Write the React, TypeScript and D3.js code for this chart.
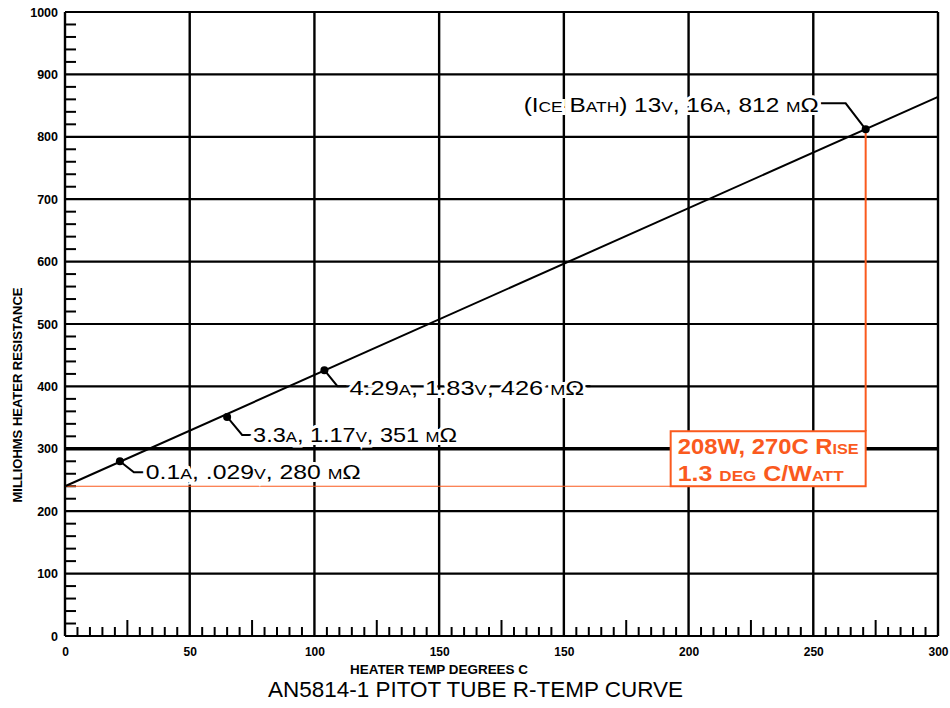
import React, { useRef, useEffect } from 'react';
import * as d3 from 'd3';

// x values are positions along the printed axis (the sheet repeats the 150 label)
const X_TICK_LABELS = ['0', '50', '100', '150', '150', '200', '250', '300'];
const LINE_X = [0, 350];
const LINE_R = [240, 864];
const POINT_X = [22, 65, 104, 321];
const POINT_R = [280, 351, 426, 812];
const POINT_LABELS = [
  '0.1a, .029v, 280 mΩ',
  '3.3a, 1.17v, 351 mΩ',
  '4.29a, 1.83v, 426 mΩ',
  '(Ice Bath) 13v, 16a, 812 mΩ',
];
const NOTE_LINES = ['208W, 270C Rise', '1.3 deg C/Watt'];

const ORANGE = '#fa5a1e';
const FONT = 'Liberation Sans, Arial, sans-serif';

// label offsets from each point, in px
const LABEL_LAYOUT = [
  { dx: 26, dy: 18, len: 215, anchor: 'start', leader: [[14, 11], [24, 11]] },
  { dx: 26, dy: 25, len: 204, anchor: 'start', leader: [[15, 18], [24, 18]] },
  { dx: 25, dy: 25, len: 235, anchor: 'start', leader: [[13, 16], [22, 16]] },
  { dx: -47, dy: -17, len: 295, anchor: 'end', leader: [[-20, -26], [-45, -26]] },
];

const App: React.FC = () => {
  const svgRef = useRef<SVGSVGElement>(null);

  useEffect(() => {
    if (!svgRef.current) return;
    const svg = d3.select(svgRef.current);
    svg.selectAll('*').remove();

    const left = 65, right = 938, top = 12, bottom = 636;
    const x = d3.scaleLinear().domain([0, 350]).range([left, right]);
    const y = d3.scaleLinear().domain([0, 1000]).range([bottom, top]);

    const g = svg.append('g');

    // minor ticks
    g.append('g')
      .selectAll('line')
      .data(d3.range(0, 1000, 20).filter(v => v % 100 !== 0))
      .join('line')
      .attr('x1', left).attr('x2', left + 11)
      .attr('y1', d => y(d)).attr('y2', d => y(d))
      .attr('stroke', '#000').attr('stroke-width', 2);

    g.append('g')
      .selectAll('line')
      .data(d3.range(0, 350, 5).filter(v => v % 50 !== 0))
      .join('line')
      .attr('x1', d => x(d)).attr('x2', d => x(d))
      .attr('y1', bottom).attr('y2', d => bottom - (d % 25 === 0 ? 16 : 9))
      .attr('stroke', '#000').attr('stroke-width', 2);

    // grid
    g.append('g')
      .selectAll('line')
      .data(y.ticks(10))
      .join('line')
      .attr('x1', left).attr('x2', right)
      .attr('y1', d => y(d)).attr('y2', d => y(d))
      .attr('stroke', '#000')
      .attr('stroke-width', d => (d === 300 ? 3.5 : 2.2));

    g.append('g')
      .selectAll('line')
      .data(d3.range(0, 351, 50))
      .join('line')
      .attr('x1', d => x(d)).attr('x2', d => x(d))
      .attr('y1', top).attr('y2', bottom)
      .attr('stroke', '#000').attr('stroke-width', 2.4);

    // y labels
    const yAxis = g.append('g')
      .attr('transform', `translate(${left},0)`)
      .call(d3.axisLeft(y).ticks(10).tickSize(0).tickPadding(7).tickFormat(d3.format('d')));
    yAxis.select('.domain').remove();
    yAxis.selectAll('text')
      .attr('fill', '#000')
      .attr('font-family', FONT).attr('font-weight', 'bold').attr('font-size', 12.5);

    // x labels
    const xAxis = g.append('g')
      .attr('transform', `translate(0,${bottom})`)
      .call(
        d3.axisBottom(x)
          .tickValues(d3.range(0, 351, 50))
          .tickSize(0)
          .tickPadding(11)
          .tickFormat((_, i) => X_TICK_LABELS[i])
      );
    xAxis.select('.domain').remove();
    xAxis.selectAll('text')
      .attr('fill', '#000')
      .attr('font-family', FONT).attr('font-weight', 'bold').attr('font-size', 12);

    // axis titles
    svg.append('text')
      .attr('transform', 'translate(22,395) rotate(-90)')
      .attr('text-anchor', 'middle')
      .attr('font-family', FONT).attr('font-weight', 'bold').attr('font-size', 13)
      .attr('textLength', 215).attr('lengthAdjust', 'spacingAndGlyphs')
      .text('MILLIOHMS HEATER RESISTANCE');

    svg.append('text')
      .attr('x', 350).attr('y', 674)
      .attr('font-family', FONT).attr('font-weight', 'bold').attr('font-size', 12)
      .attr('textLength', 178).attr('lengthAdjust', 'spacingAndGlyphs')
      .text('HEATER TEMP DEGREES C');

    svg.append('text')
      .attr('x', 268).attr('y', 697)
      .attr('font-family', FONT).attr('font-size', 22)
      .attr('textLength', 415).attr('lengthAdjust', 'spacingAndGlyphs')
      .text('AN5814-1 PITOT TUBE R-TEMP CURVE');

    // orange note
    const px = x(POINT_X[3]);
    const py = y(POINT_R[3]);
    const base = y(LINE_R[0]);
    const boxW = 195, boxH = 55;
    svg.append('line')
      .attr('x1', x(0)).attr('x2', px - boxW)
      .attr('y1', base).attr('y2', base)
      .attr('stroke', ORANGE).attr('stroke-width', 1.2);
    svg.append('line')
      .attr('x1', px).attr('x2', px)
      .attr('y1', py).attr('y2', base - boxH)
      .attr('stroke', ORANGE).attr('stroke-width', 2);
    svg.append('rect')
      .attr('x', px - boxW).attr('y', base - boxH)
      .attr('width', boxW).attr('height', boxH)
      .attr('fill', '#fff').attr('stroke', ORANGE).attr('stroke-width', 2);
    svg.append('g')
      .selectAll('text')
      .data(NOTE_LINES)
      .join('text')
      .attr('x', px - boxW + 7)
      .attr('y', (_, i) => base - boxH + 23 + i * 27)
      .attr('fill', ORANGE)
      .attr('font-family', FONT).attr('font-weight', 'bold').attr('font-size', 22)
      .attr('font-variant', 'small-caps')
      .attr('textLength', (_, i) => (i === 0 ? 181 : 166))
      .attr('lengthAdjust', 'spacingAndGlyphs')
      .text(d => d);

    // curve
    const line = d3.line<number>().x((_, i) => x(LINE_X[i])).y(d => y(d));
    svg.append('path')
      .attr('d', line(LINE_R))
      .attr('fill', 'none').attr('stroke', '#000').attr('stroke-width', 2);

    // leaders + labels
    const pts = POINT_X.map((v, i) => ({ cx: x(v), cy: y(POINT_R[i]), label: POINT_LABELS[i], lay: LABEL_LAYOUT[i] }));

    svg.append('g')
      .selectAll('path')
      .data(pts)
      .join('path')
      .attr('d', d => d3.line()([[d.cx, d.cy], ...d.lay.leader.map(([a, b]) => [d.cx + a, d.cy + b] as [number, number])]))
      .attr('fill', 'none').attr('stroke', '#000').attr('stroke-width', 2);

    svg.append('g')
      .selectAll('text')
      .data(pts)
      .join('text')
      .attr('x', d => d.cx + d.lay.dx)
      .attr('y', d => d.cy + d.lay.dy)
      .attr('text-anchor', d => d.lay.anchor)
      .attr('font-family', FONT).attr('font-size', 21)
      .attr('font-variant', 'small-caps')
      .attr('textLength', d => d.lay.len).attr('lengthAdjust', 'spacingAndGlyphs')
      .attr('stroke', '#fff').attr('stroke-width', 6).attr('paint-order', 'stroke')
      .attr('fill', '#000')
      .text(d => d.label);

    // short tail after the 426 label
    const p3 = pts[2];
    svg.append('line')
      .attr('x1', p3.cx + p3.lay.dx + p3.lay.len + 1).attr('x2', p3.cx + p3.lay.dx + p3.lay.len + 6)
      .attr('y1', p3.cy + 16).attr('y2', p3.cy + 16)
      .attr('stroke', '#000').attr('stroke-width', 2);

    svg.append('g')
      .selectAll('circle')
      .data(pts)
      .join('circle')
      .attr('cx', d => d.cx).attr('cy', d => d.cy).attr('r', 4)
      .attr('fill', '#000');
  }, []);

  return (
    <svg
      ref={svgRef}
      width={950}
      height={708}
      style={{ position: 'absolute', left: 0, top: 0, background: '#fff' }}
    />
  );
};

export default App;
